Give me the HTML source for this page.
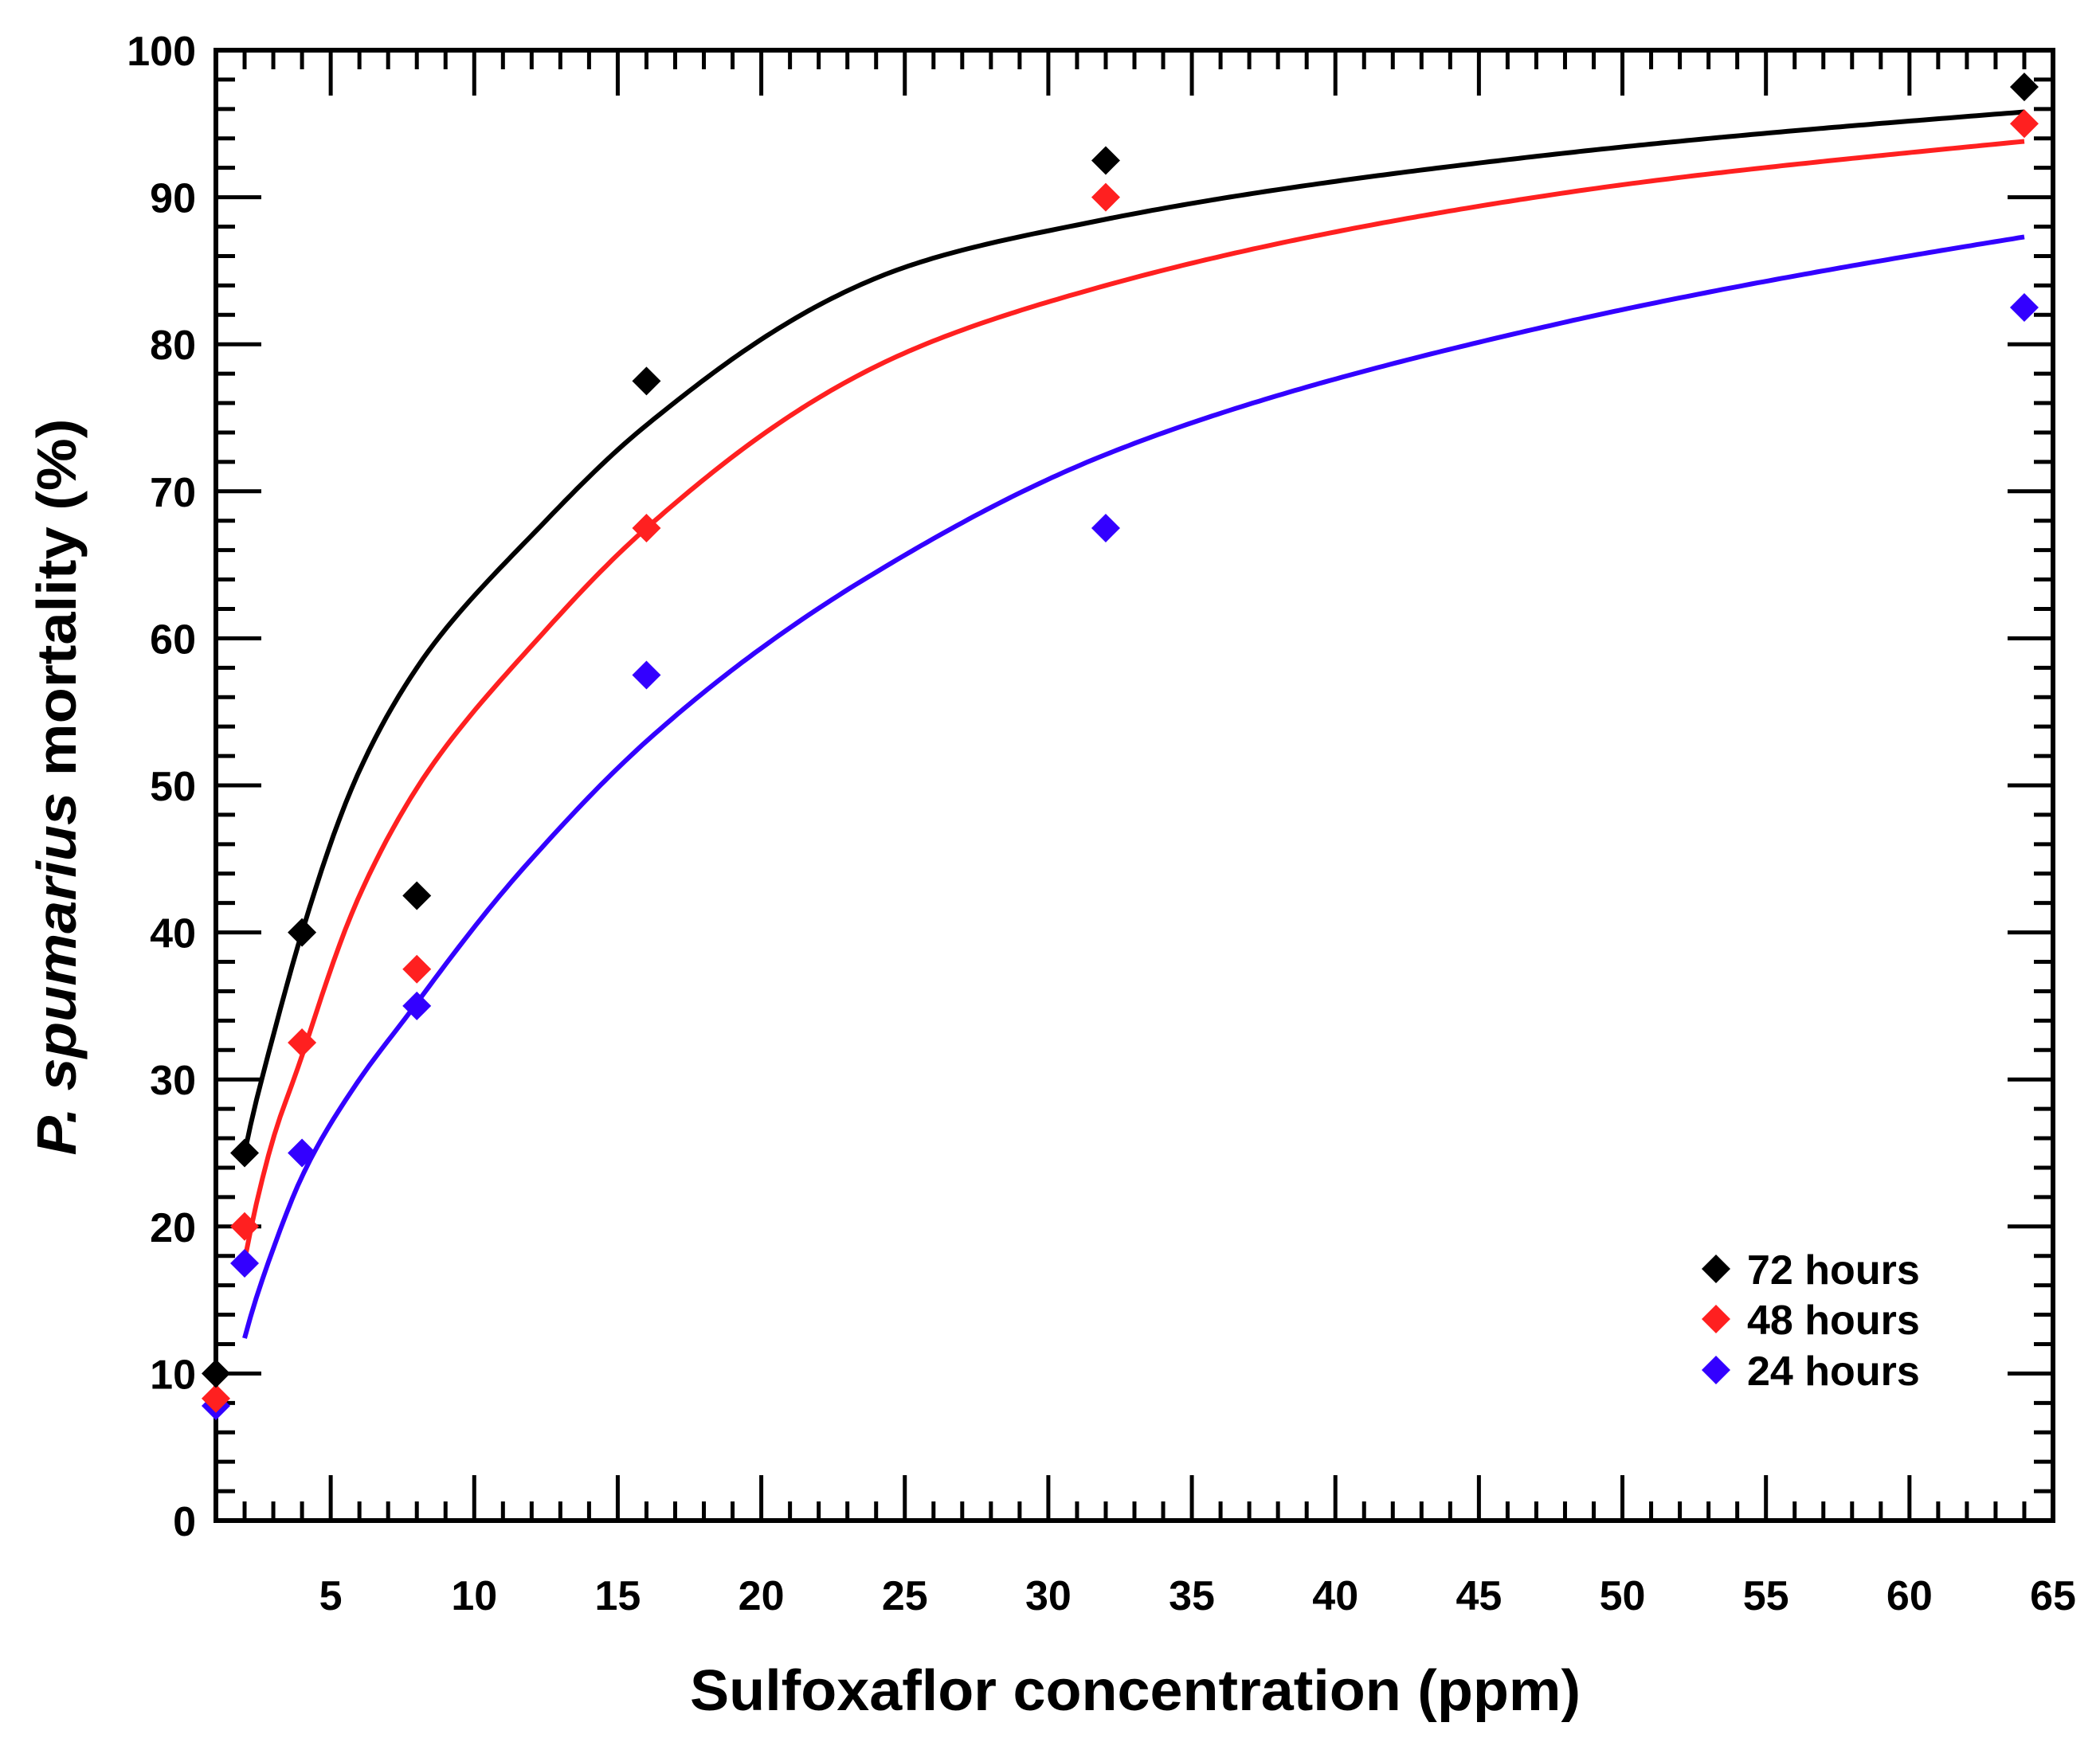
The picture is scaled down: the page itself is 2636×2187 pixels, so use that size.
<!DOCTYPE html>
<html><head><meta charset="utf-8"><style>
html,body{margin:0;padding:0;background:#fff;}
svg{display:block;font-family:"Liberation Sans",Arial,sans-serif;font-weight:bold;}
</style></head><body>
<svg id="chart" width="2636" height="2187" viewBox="0 0 2636 2187" xmlns="http://www.w3.org/2000/svg">
<g id="axes"></g>
<g id="curves"></g>
<g id="points"></g>
<text x="95" y="988" transform="rotate(-90 95 988)" text-anchor="middle" font-size="70" textLength="925" lengthAdjust="spacingAndGlyphs"><tspan font-style="italic">P. spumarius</tspan> mortality (%)</text>
<text x="1425" y="2147" text-anchor="middle" font-size="72" textLength="1118" lengthAdjust="spacingAndGlyphs">Sulfoxaflor concentration (ppm)</text>
<g id="legend"></g>
</svg>
<script>
const xTicks = [5,10,15,20,25,30,35,40,45,50,55,60,65];
const yTicks = [0,10,20,30,40,50,60,70,80,90,100];
const doses = [1,2,4,8,16,32,64];
const obs72 = [10,25,40,42.5,77.5,92.5,97.5];
const obs48 = [8.3,20,32.5,37.5,67.5,90,95];
const obs24 = [7.8,17.5,25,35,57.5,67.5,82.5];
const fitX = [2,3,4,6,8,12,16,24,32,48,64];
const fit72 = [25,33,40,51,58,67,74.5,84.5,88.5,93,95.8];
const fit48 = [17.7,26,31.6,42.5,49.8,59.5,67.5,78.5,84,90.3,93.8];
const fit24 = [12.4,18.5,23.4,30,35.2,45,53,64.5,72.5,81.5,87.3];
const seriesNames = ["72 hours","48 hours","24 hours"];
const seriesColors = ["#000000","#ff2020","#3300ff"];

const X0=271,X1=2577,Y0=1909,Y1=63;
const xmin=1,xmax=65,ymin=0,ymax=100;
const sx=v=>X0+(v-xmin)/(xmax-xmin)*(X1-X0);
const sy=v=>Y0-(v-ymin)/(ymax-ymin)*(Y0-Y1);
const NS="http://www.w3.org/2000/svg";
function mk(tag,attrs,parent){const e=document.createElementNS(NS,tag);for(const k in attrs)e.setAttribute(k,attrs[k]);parent.appendChild(e);return e;}

const axes=document.getElementById('axes');
const frame=mk('rect',{x:X0,y:Y1,width:X1-X0,height:Y0-Y1,fill:'none',stroke:'#000','stroke-width':6},axes);


for(let v=2;v<=64;v++){
  const major=v%5===0, L=major?57:24, x=sx(v);
  const t1=mk('line',{x1:x,y1:Y0,x2:x,y2:Y0-L,stroke:'#000','stroke-width':5},axes);
  
  
  const t2=mk('line',{x1:x,y1:Y1,x2:x,y2:Y1+L,stroke:'#000','stroke-width':5},axes);
  
  
}
xTicks.forEach(v=>{
  const t=mk('text',{x:sx(v),y:2021,'text-anchor':'middle','font-size':52},axes);
  t.textContent=v;
  
  
});
for(let v=2;v<100;v+=2){
  const major=v%10===0, L=major?57:24, y=sy(v);
  const t1=mk('line',{x1:X0,y1:y,x2:X0+L,y2:y,stroke:'#000','stroke-width':5},axes);
  
  
  const t2=mk('line',{x1:X1,y1:y,x2:X1-L,y2:y,stroke:'#000','stroke-width':5},axes);
  
  
}
yTicks.forEach(v=>{
  const t=mk('text',{x:246,y:sy(v)+19,'text-anchor':'end','font-size':52},axes);
  t.textContent=v;
  
  
});
// monotone cubic (Fritsch-Carlson) interpolation in log-x space
function monotone(xs,ys){
  const n=xs.length,d=[],m=new Array(n);
  for(let i=0;i<n-1;i++)d.push((ys[i+1]-ys[i])/(xs[i+1]-xs[i]));
  m[0]=d[0];m[n-1]=d[n-2];
  for(let i=1;i<n-1;i++)m[i]=(d[i-1]*d[i]<=0)?0:(d[i-1]+d[i])/2;
  for(let i=0;i<n-1;i++){
    if(d[i]===0){m[i]=m[i+1]=0;continue;}
    const a=m[i]/d[i],b=m[i+1]/d[i],s=a*a+b*b;
    if(s>9){const t=3/Math.sqrt(s);m[i]=t*a*d[i];m[i+1]=t*b*d[i];}
  }
  return t=>{
    let i=0;while(i<n-2&&t>xs[i+1])i++;
    const h=xs[i+1]-xs[i],u=(t-xs[i])/h,u2=u*u,u3=u2*u;
    return (2*u3-3*u2+1)*ys[i]+(u3-2*u2+u)*h*m[i]+(-2*u3+3*u2)*ys[i+1]+(u3-u2)*h*m[i+1];
  };
}
function pathFor(xs,ys){
  const lx=xs.map(Math.log),f=monotone(lx,ys);
  let d='';
  const a=xs[0],b=xs[xs.length-1],N=300;
  for(let k=0;k<=N;k++){
    const x=a+(b-a)*k/N;
    d+=(k?'L':'M')+sx(x).toFixed(1)+','+sy(f(Math.log(x))).toFixed(1);
  }
  return d;
}
const curves=document.getElementById('curves');
[fit72,fit48,fit24].forEach((f,i)=>{
  const c=mk('path',{d:pathFor(fitX,f),fill:'none',stroke:seriesColors[i],'stroke-width':6,'stroke-linejoin':'round'},curves);
  
  
});
const pts=document.getElementById('points');
function diamond(cx,cy,r,color,parent){
  return mk('polygon',{points:`${cx},${cy-r} ${cx+r},${cy} ${cx},${cy+r} ${cx-r},${cy}`,fill:color},parent);
}
[obs24,obs48,obs72].forEach((o,k)=>{
  const i=2-k;
  doses.forEach((d,j)=>{
    const m=diamond(sx(d),sy(o[j]),18,seriesColors[i],pts);
    
    
  });
});
const legend=document.getElementById('legend');
const ly=[1593,1656,1720];
seriesNames.forEach((n,i)=>{
  const m=diamond(2154,ly[i],18,seriesColors[i],legend);
  
  
  const t=mk('text',{x:2193,y:ly[i]+19,'font-size':52},legend);
  t.textContent=n;
  
  
});
</script>
</body></html>
